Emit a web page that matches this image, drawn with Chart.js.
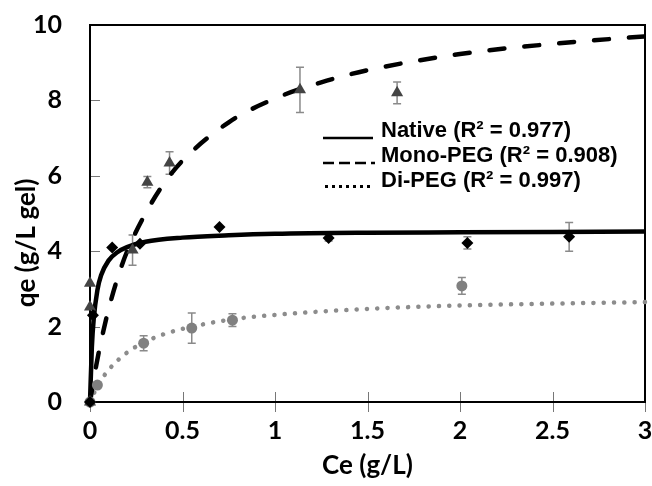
<!DOCTYPE html>
<html lang="en">
<head>
<meta charset="UTF-8">
<title>qe vs Ce</title>
<script src="https://cdn.jsdelivr.net/npm/chart.js"></script>
<style>
  body { margin: 0; background: #fff; }
</style>
</head>
<body>
<canvas id="myChart" width="652" height="486"></canvas>
<script>
// measured points (Ce, qe) and error bars
const nativeX = [0, 0.016, 0.12, 0.27, 0.70, 1.29, 2.04, 2.59];
const nativeY = [0, 2.3, 4.1, 4.2, 4.64, 4.35, 4.22, 4.38];
const nativeErr = [0, 0, 0, 0, 0, 0.08, 0.16, 0.38];
const monoX = [0, 0, 0, 0.23, 0.31, 0.43, 1.135, 1.66];
const monoY = [0, 2.52, 3.15, 4.03, 5.83, 6.34, 8.28, 8.2];
const monoErr = [0, 0, 0, 0.4, 0.15, 0.3, 0.6, 0.29];
const diX = [0, 0.04, 0.29, 0.55, 0.77, 2.01];
const diY = [0, 0.45, 1.56, 1.96, 2.17, 3.08];
const diErr = [0, 0, 0.2, 0.4, 0.17, 0.22];

// fitted curves
const nativeFitX = [0, 0.01, 0.02, 0.04, 0.06, 0.1, 0.15, 0.2, 0.3, 0.5, 0.75, 1, 1.5, 2, 2.5, 3];
const nativeFitY = [0, 1.45, 2.2, 2.97, 3.36, 3.75, 3.98, 4.11, 4.25, 4.36, 4.42, 4.46, 4.49, 4.5, 4.51, 4.52];
const monoFitX = [0, 0.02, 0.05, 0.1, 0.15, 0.2, 0.3, 0.4, 0.5, 0.75, 1, 1.25, 1.5, 2, 2.5, 3];
const monoFitY = [0, 0.6, 1.38, 2.45, 3.3, 3.99, 5.0, 5.8, 6.4, 7.42, 8.05, 8.48, 8.8, 9.23, 9.5, 9.7];
const diFitX = [0, 0.02, 0.05, 0.1, 0.2, 0.3, 0.4, 0.5, 0.75, 1, 1.5, 2, 2.5, 3];
const diFitY = [0, 0.22, 0.5, 0.85, 1.31, 1.6, 1.8, 1.94, 2.18, 2.31, 2.47, 2.56, 2.61, 2.65];

const xTicks = [0, 0.5, 1, 1.5, 2, 2.5, 3];
const yTicks = [0, 2, 4, 6, 8, 10];
const legendLabels = ['Native (R\u00B2 = 0.977)', 'Mono-PEG (R\u00B2 = 0.908)', 'Di-PEG (R\u00B2 = 0.997)'];
const xTitle = 'Ce (g/L)';
const yTitle = 'qe (g/L gel)';

function pts(xs, ys) {
    return xs.map(function (x, i) { return { x: x, y: ys[i] }; });
}

// frame, tick marks, axis titles
const framePlugin = {
    id: 'frame',
    beforeDatasetsDraw(chart) {
        const ctx = chart.ctx, a = chart.chartArea;
        const xs = chart.scales.x, ys = chart.scales.y;
        ctx.save();
        ctx.strokeStyle = '#777';
        ctx.lineWidth = 1;
        yTicks.forEach(function (v) {
            const py = Math.round(ys.getPixelForValue(v)) + 0.5;
            ctx.beginPath(); ctx.moveTo(a.left, py); ctx.lineTo(a.left + 10, py); ctx.stroke();
        });
        xTicks.forEach(function (v) {
            const px = Math.round(xs.getPixelForValue(v)) + 0.5;
            ctx.beginPath(); ctx.moveTo(px, a.bottom - 10); ctx.lineTo(px, a.bottom + 10); ctx.stroke();
        });
        ctx.strokeStyle = '#000';
        ctx.lineWidth = 2;
        ctx.strokeRect(a.left, a.top, a.right - a.left, a.bottom - a.top);
        ctx.restore();
    },
    afterDraw(chart) {
        const ctx = chart.ctx, a = chart.chartArea;
        ctx.save();
        ctx.fillStyle = '#000';
        ctx.font = 'bold 26px Lato';
        ctx.textAlign = 'center';
        ctx.textBaseline = 'middle';
        ctx.fillText(xTitle, (a.left + a.right) / 2, 466);
        ctx.translate(27, 243);
        ctx.rotate(-Math.PI / 2);
        ctx.fillText(yTitle, 0, 0);
        ctx.restore();
    }
};

// error bars behind markers
const errorBarPlugin = {
    id: 'errbars',
    beforeDatasetsDraw(chart) {
        const ctx = chart.ctx;
        const xs = chart.scales.x, ys = chart.scales.y;
        const sets = [[nativeX, nativeY, nativeErr], [monoX, monoY, monoErr], [diX, diY, diErr]];
        ctx.save();
        ctx.strokeStyle = '#8a8a8a';
        ctx.lineWidth = 1.5;
        sets.forEach(function (s) {
            s[0].forEach(function (x, i) {
                const e = s[2][i];
                if (!e) return;
                const px = xs.getPixelForValue(x);
                const y1 = ys.getPixelForValue(s[1][i] - e);
                const y2 = ys.getPixelForValue(s[1][i] + e);
                ctx.beginPath();
                ctx.moveTo(px, y1); ctx.lineTo(px, y2);
                ctx.moveTo(px - 4, y1); ctx.lineTo(px + 4, y1);
                ctx.moveTo(px - 4, y2); ctx.lineTo(px + 4, y2);
                ctx.stroke();
            });
        });
        ctx.restore();
    }
};

// legend with line samples
const legendPlugin = {
    id: 'fitLegend',
    afterDraw(chart) {
        const ctx = chart.ctx;
        const rows = [137, 162, 187];
        ctx.save();
        ctx.font = 'bold 22px "Liberation Sans"';
        ctx.fillStyle = '#000';
        ctx.textBaseline = 'alphabetic';
        legendLabels.forEach(function (t, i) {
            ctx.fillText(t, 381, rows[i]);
        });
        ctx.strokeStyle = '#000';
        ctx.lineWidth = 2.5;
        ctx.beginPath(); ctx.moveTo(323, rows[0] + 1); ctx.lineTo(373, rows[0] + 1); ctx.stroke();
        ctx.setLineDash([11, 5]);
        ctx.beginPath(); ctx.moveTo(323, rows[1] + 1); ctx.lineTo(375, rows[1] + 1); ctx.stroke();
        ctx.setLineDash([]);
        ctx.fillStyle = '#000';
        for (let k = 0; k < 7; k++) {
            ctx.fillRect(325 + k * 7, rows[2] - 2, 3, 3);
        }
        ctx.restore();
    }
};

const tickFont = { family: 'Lato', size: 25, weight: 'bold' };

const ctx = document.getElementById('myChart');
const myChart = new Chart(ctx, {
    type: 'scatter',
    data: {
        datasets: [
            { label: 'Native', data: pts(nativeX, nativeY), pointStyle: 'rectRot', pointRadius: 6,
              backgroundColor: '#000', borderColor: '#000', borderWidth: 0, order: 1, clip: false },
            { label: 'Mono-PEG', data: pts(monoX, monoY), pointStyle: 'triangle', pointRadius: 7,
              backgroundColor: '#444', borderColor: '#444', borderWidth: 0, order: 2, clip: false },
            { label: 'Di-PEG', data: pts(diX, diY), pointStyle: 'circle', pointRadius: 5.5,
              backgroundColor: '#808080', borderColor: '#808080', borderWidth: 0, order: 3, clip: false },
            { label: 'Native fit', data: pts(nativeFitX, nativeFitY), showLine: true, pointRadius: 0,
              borderColor: '#000', borderWidth: 4.5, cubicInterpolationMode: 'monotone', order: 6, clip: false },
            { label: 'Mono-PEG fit', data: pts(monoFitX, monoFitY), showLine: true, pointRadius: 0,
              borderColor: '#000', borderWidth: 4.5, borderDash: [15, 20], borderCapStyle: 'round',
              cubicInterpolationMode: 'monotone', order: 5, clip: false },
            { label: 'Di-PEG fit', data: pts(diFitX, diFitY), showLine: true, pointRadius: 0,
              borderColor: '#8c8c8c', borderWidth: 4.5, borderDash: [0.1, 10.2], borderCapStyle: 'round',
              cubicInterpolationMode: 'monotone', order: 7, clip: false }
        ]
    },
    options: {
        responsive: false,
        animation: false,
        layout: { padding: { top: 25, right: 7, left: 0, bottom: 0 } },
        plugins: { legend: { display: false }, tooltip: { enabled: false } },
        scales: {
            x: {
                type: 'linear', min: 0, max: 3,
                afterBuildTicks: function (s) { s.ticks = xTicks.map(function (v) { return { value: v }; }); },
                afterFit: function (s) {
                    s.height = 84;
                    s.paddingLeft = 0; s.paddingRight = 0; s.paddingTop = 0; s.paddingBottom = 0;
                },
                grid: { display: false, drawTicks: false },
                border: { display: false },
                ticks: { padding: 14, color: '#000', font: tickFont,
                         callback: function (v) { return String(v); } }
            },
            y: {
                type: 'linear', min: 0, max: 10,
                afterBuildTicks: function (s) { s.ticks = yTicks.map(function (v) { return { value: v }; }); },
                afterFit: function (s) {
                    s.width = 90;
                    s.paddingLeft = 0; s.paddingRight = 0; s.paddingTop = 0; s.paddingBottom = 0;
                },
                grid: { display: false, drawTicks: false },
                border: { display: false },
                ticks: { padding: 28, color: '#000', font: tickFont,
                         callback: function (v) { return String(v); } }
            }
        }
    },
    plugins: [framePlugin, errorBarPlugin, legendPlugin]
});
</script>
</body>
</html>
